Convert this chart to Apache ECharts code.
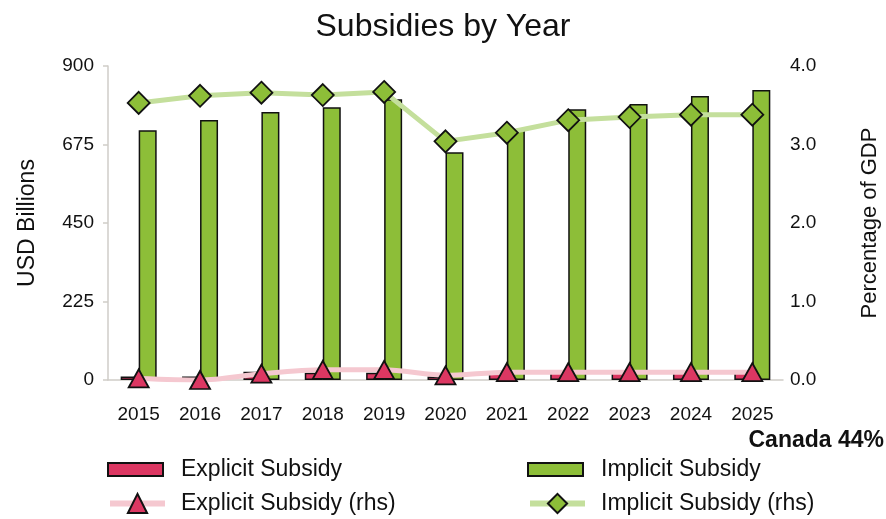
<!DOCTYPE html>
<html>
<head>
<meta charset="utf-8">
<title>Subsidies by Year</title>
<script src="https://cdn.jsdelivr.net/npm/echarts@6/dist/echarts.min.js"></script>
<style>
  html, body { margin: 0; padding: 0; background: #ffffff; }
  #chart { width: 886px; height: 519px; }
</style>
</head>
<body>
<div id="chart"></div>
<script>
// Years on the category axis
const years = ['2015', '2016', '2017', '2018', '2019', '2020', '2021', '2022', '2023', '2024', '2025'];

// Subsidies in USD billions (left axis)
const explicitUSD = [10, 10, 24, 21, 21, 10, 24, 27, 27, 27, 27];
const implicitUSD = [716, 745, 768, 782, 805, 653, 718, 776, 791, 814, 831];

// Subsidies as a share of GDP (right axis)
const explicitGDP = [0.02, 0.0, 0.08, 0.13, 0.13, 0.06, 0.1, 0.1, 0.1, 0.1, 0.1];
const implicitGDP = [3.53, 3.62, 3.66, 3.63, 3.67, 3.04, 3.15, 3.31, 3.35, 3.38, 3.38];

// Axis ticks
const usdTicks = [0, 225, 450, 675, 900];
const gdpTicks = [0.0, 1.0, 2.0, 3.0, 4.0];

const FONT = '"Liberation Sans", Arial, Helvetica, sans-serif';
const RED = '#DC3762';
const GREEN = '#8DBE38';
const PINK = '#F5C8D0';
const LIGHTGREEN = '#C4DF9C';
const AXISGRAY = '#CFCDC8';

const chart = echarts.init(document.getElementById('chart'), null, { renderer: 'canvas' });

function legendBox(name, left, top, isLine) {
  return {
    data: [name],
    left: left,
    top: top,
    orient: 'horizontal',
    icon: isLine ? undefined : 'rect',
    itemWidth: 55,
    itemHeight: isLine ? 24 : 13,
    selectedMode: false,
    lineStyle: isLine ? { width: 6 } : undefined,
    textStyle: { fontFamily: FONT, fontSize: 23, color: '#111', padding: [0, 0, 0, isLine ? 11 : 13] }
  };
}

const option = {
  backgroundColor: '#ffffff',
  animation: false,
  title: {
    text: 'Subsidies by Year',
    left: 'center',
    top: 6,
    textStyle: { fontFamily: FONT, fontSize: 32, fontWeight: 'normal', color: '#111' }
  },
  legend: [
    legendBox('Explicit Subsidy', 102, 453, false),
    legendBox('Implicit Subsidy', 522, 453, false),
    legendBox('Explicit Subsidy (rhs)', 102, 487, true),
    legendBox('Implicit Subsidy (rhs)', 522, 487, true)
  ],
  graphic: [{
    type: 'text',
    right: 2,
    top: 429,
    style: { text: 'Canada 44%', fontFamily: FONT, fontSize: 23, fontWeight: 'bold', fill: '#111' }
  }],
  grid: { left: 108, right: 103, top: 66, bottom: 139, outerBoundsMode: 'none', containLabel: false },
  xAxis: {
    type: 'category',
    data: years,
    boundaryGap: true,
    axisLine: { show: true, lineStyle: { color: AXISGRAY, width: 1.5 } },
    axisTick: { show: false },
    axisLabel: { fontFamily: FONT, fontSize: 19, color: '#111', margin: 25 }
  },
  yAxis: [{
    type: 'value',
    min: usdTicks[0],
    max: usdTicks[usdTicks.length - 1],
    interval: usdTicks[1] - usdTicks[0],
    name: 'USD Billions',
    nameLocation: 'middle',
    nameGap: 69,
    nameRotate: 90,
    nameTextStyle: { fontFamily: FONT, fontSize: 23, color: '#111' },
    axisLine: { show: true, lineStyle: { color: AXISGRAY, width: 1.5 } },
    axisTick: { show: true, inside: false, length: 5, lineStyle: { color: AXISGRAY, width: 1.5 } },
    splitLine: { show: false },
    axisLabel: { fontFamily: FONT, fontSize: 19, color: '#111', margin: 14 }
  }, {
    type: 'value',
    min: gdpTicks[0],
    max: gdpTicks[gdpTicks.length - 1],
    interval: gdpTicks[1] - gdpTicks[0],
    name: 'Percentage of GDP',
    nameLocation: 'middle',
    nameGap: 76,
    nameRotate: 90,
    nameTextStyle: { fontFamily: FONT, fontSize: 22, color: '#111' },
    axisLine: { show: false },
    axisTick: { show: false },
    splitLine: { show: false },
    axisLabel: {
      fontFamily: FONT, fontSize: 19, color: '#111', margin: 7,
      formatter: v => v.toFixed(1)
    }
  }],
  series: [{
    name: 'Explicit Subsidy',
    type: 'bar',
    yAxisIndex: 0,
    data: explicitUSD,
    barWidth: 18,
    barGap: '0%',
    itemStyle: { color: RED, borderColor: '#111', borderWidth: 1.5 },
    z: 2
  }, {
    name: 'Implicit Subsidy',
    type: 'bar',
    yAxisIndex: 0,
    data: implicitUSD,
    barWidth: 18,
    barGap: '0%',
    itemStyle: { color: GREEN, borderColor: '#111', borderWidth: 1.5 },
    z: 2
  }, {
    name: 'Explicit Subsidy (rhs)',
    type: 'line',
    yAxisIndex: 1,
    data: explicitGDP,
    smooth: 0.3,
    symbol: 'triangle',
    symbolSize: [20, 18],
    lineStyle: { color: PINK, width: 5 },
    itemStyle: { color: RED, borderColor: '#111', borderWidth: 1.8 },
    z: 4
  }, {
    name: 'Implicit Subsidy (rhs)',
    type: 'line',
    yAxisIndex: 1,
    data: implicitGDP,
    symbol: 'diamond',
    symbolSize: [22, 22],
    lineStyle: { color: LIGHTGREEN, width: 5 },
    itemStyle: { color: GREEN, borderColor: '#111', borderWidth: 1.8 },
    z: 4
  }]
};

chart.setOption(option);
</script>
</body>
</html>
